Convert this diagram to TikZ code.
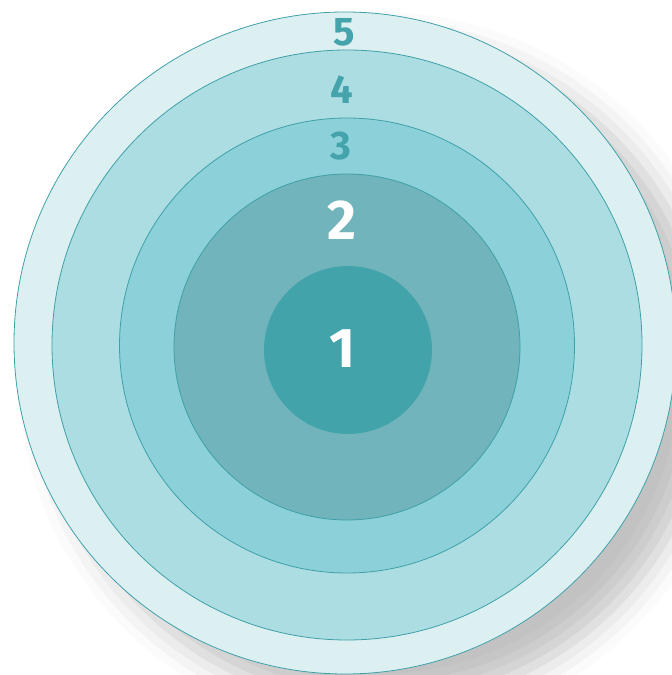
\documentclass[tikz,border=0pt]{standalone}
\usepackage{fontspec}
\setmainfont{Fira Sans}
\usetikzlibrary{positioning,shadows.blur}
\definecolor{edge}{HTML}{3FA0A8}
\definecolor{ringfive}{HTML}{DCF0F2}
\definecolor{ringfour}{HTML}{ABDDE2}
\definecolor{ringthree}{HTML}{8CD1D9}
\definecolor{ringtwo}{HTML}{72B4BC}
\definecolor{ringone}{HTML}{43A3AB}
\definecolor{digit}{HTML}{45A3AB}
\tikzset{
  ring/.style={circle,draw=edge,line width=0.8pt,inner sep=0pt,outer sep=0pt},
  ringlabel/.style={font=\fontsize{40}{40}\selectfont\bfseries,text=digit,inner sep=0pt},
  biglabel/.style={font=\fontsize{56}{56}\selectfont\bfseries,text=white,inner sep=0pt}
}

\begin{document}
\begin{tikzpicture}[x=1pt,y=1pt]
        \useasboundingbox (0,0) rectangle (672,675);
        \clip (0,0) rectangle (672,675);
        % rings, outermost first
        \node[ring,fill=ringfive,minimum size=662,
          blur shadow={shadow xshift=34pt,shadow yshift=-30pt,shadow blur radius=30pt,shadow opacity=24}]
          (five) at (345,332) {};
        \node[ring,fill=ringfour,minimum size=590] (four) at (347,330) {};
        \node[ring,fill=ringthree,minimum size=455] (three) at (347,329.5) {};
        \node[ring,fill=ringtwo,minimum size=346] (two) at (347,328) {};
        \node[ring,fill=ringone,draw=none,minimum size=168] (one) at (348,325) {};
        % labels
        \node[ringlabel] (labfive) at (344,643) {5};
        \node[ringlabel] (labfour) at (342,585) {4};
        \node[ringlabel] (labthree) at (341,529) {3};
        \node[biglabel] (labtwo) at (342,455) {2};
        \node[biglabel] (labone) at (342,326) {1};
      \end{tikzpicture}
\end{document}
